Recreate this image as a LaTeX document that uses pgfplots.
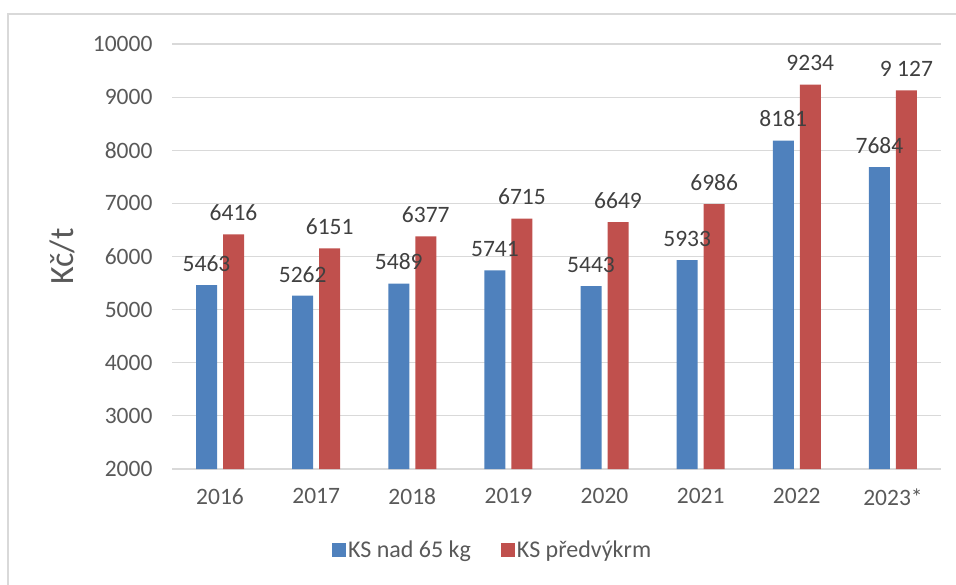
\documentclass[border=0pt]{standalone}
\usepackage{pgfplots}
\pgfplotsset{compat=1.18}
\usepackage{fontspec}
\setmainfont{Carlito}
\definecolor{kblue}{HTML}{4F81BD}
\definecolor{kred}{HTML}{C0504D}
\definecolor{kgrid}{HTML}{D9D9D9}
\definecolor{ktext}{HTML}{595959}
\definecolor{klab}{HTML}{404040}
\begin{document}
\begin{tikzpicture}
\useasboundingbox (0pt,0pt) rectangle (956pt,584pt);
\draw[kgrid, line width=1.5pt] (8pt,-10pt) -- (8pt,570pt) -- (970pt,570pt);
\begin{axis}[
 at={(172pt,115pt)}, anchor=south west,
 scale only axis, width=769pt, height=425pt,
 ybar=6pt, bar width=21pt,
 xmin=-0.5, xmax=7.5, ymin=2000, ymax=10000,
 xtick={0,1,2,3,4,5,6,7},
 xticklabels={2016,2017,2018,2019,2020,2021,2022,2023*},
 ytick={2000,3000,4000,5000,6000,7000,8000,9000,10000},
 scaled y ticks=false,
 /pgf/number format/1000 sep={},
 /pgf/number format/assume math mode=true,
 ymajorgrids, grid style={kgrid, line width=1.2pt},
 axis lines*=left,
 x axis line style={kgrid, line width=1.2pt},
 y axis line style={draw=none},
 major tick length=0pt,
 tick label style={font=\fontsize{23.5}{28}\selectfont, text=ktext},
 yticklabel style={xshift=-16pt},
 xticklabel style={yshift=-16pt},
 ylabel={Kč/t},
 ylabel style={at={(axis description cs:-0.142,0.5)}, anchor=center, font=\fontsize{34}{40}\selectfont, text=ktext},
 nodes near coords,
 point meta=explicit symbolic,
 every node near coord/.append style={font=\fontsize{23.5}{28}\selectfont, text=klab, yshift=10pt},
 legend style={at={(axis description cs:0.417,-0.19)}, anchor=center, draw=none, fill=none,
   legend columns=2, font=\fontsize{24}{28}\selectfont, text=ktext,
   /tikz/every even column/.append style={column sep=28pt}},
 legend image code/.code={\fill[#1] (0pt,-7pt) rectangle (14pt,7pt);},
]
\addplot[fill=kblue, draw=none] coordinates {
 (0,5463)[5463] (1,5262)[5262] (2,5489)[5489] (3,5741)[5741]
 (4,5443)[5443] (5,5933)[5933] (6,8181)[8181] (7,7684)[7684]};
\addplot[fill=kred, draw=none] coordinates {
 (0,6416)[6416] (1,6151)[6151] (2,6377)[6377] (3,6715)[6715]
 (4,6649)[6649] (5,6986)[6986] (6,9234)[9234] (7,9127)[9 127]};
\legend{KS nad 65 kg, KS předvýkrm}
\end{axis}
\end{tikzpicture}
\end{document}
